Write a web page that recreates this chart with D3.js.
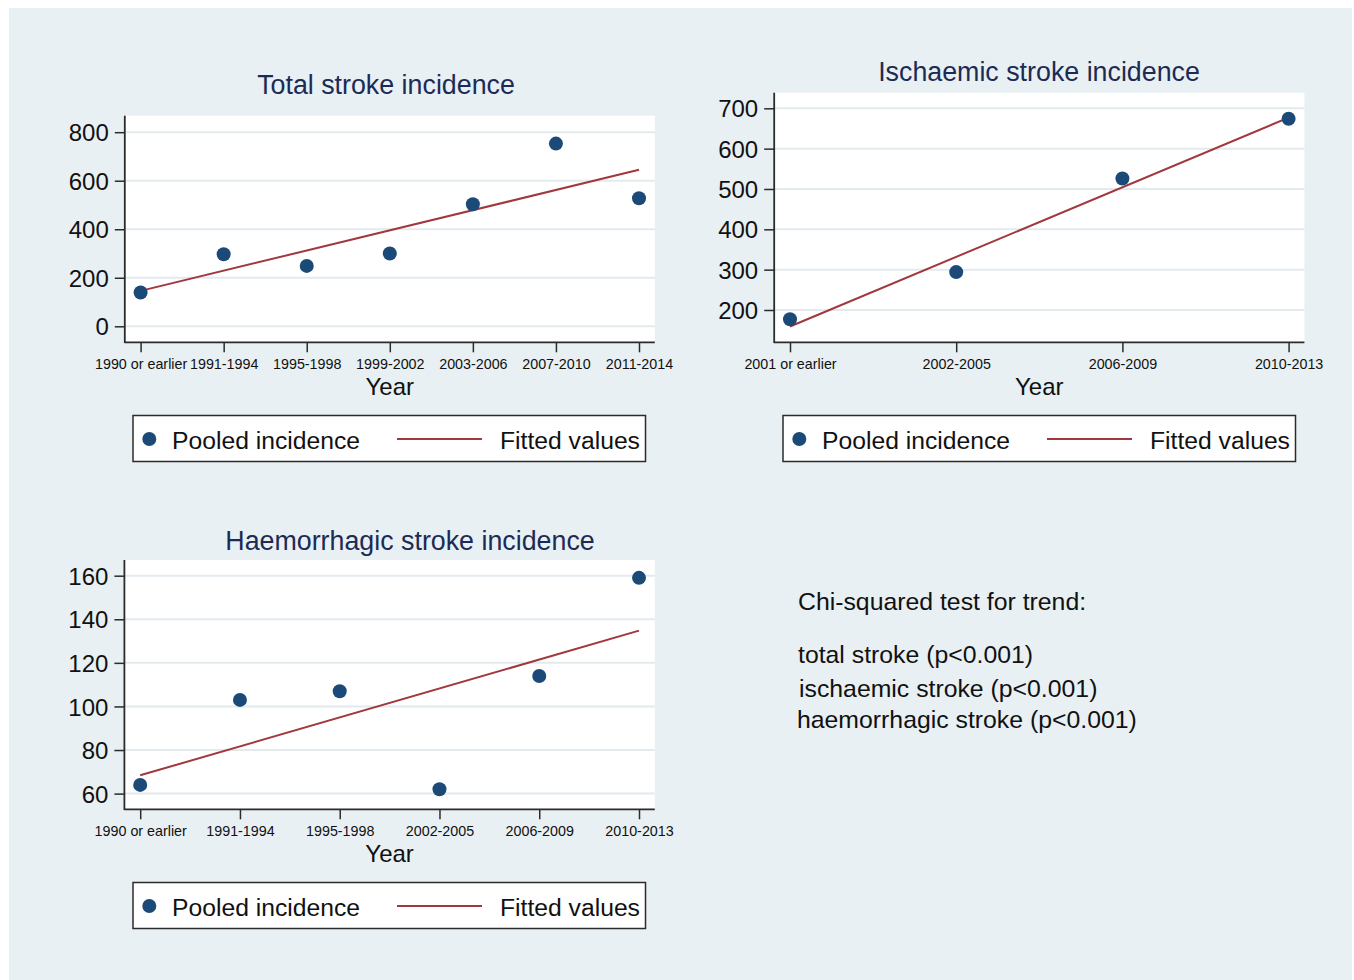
<!DOCTYPE html>
<html>
<head>
<meta charset="utf-8">
<script src="https://cdn.jsdelivr.net/npm/d3@7"></script>
<style>
  html, body { margin: 0; padding: 0; background: #ffffff; }
  svg { display: block; font-family: "Liberation Sans", Arial, Helvetica, sans-serif; }
</style>
</head>
<body>
<svg id="chart" width="1354" height="980"></svg>
<script>
// ---- Data ----
const totalCategories = ["1990 or earlier", "1991-1994", "1995-1998", "1999-2002", "2003-2006", "2007-2010", "2011-2014"];
const totalIncidence = [139, 297, 249, 300, 503, 753, 528];
const totalFitted = [146, 645];          // fitted values at first and last period
const totalTicks = [0, 200, 400, 600, 800];

const ischaemicCategories = ["2001 or earlier", "2002-2005", "2006-2009", "2010-2013"];
const ischaemicIncidence = [177, 294, 526, 674];
const ischaemicFitted = [159, 677];
const ischaemicTicks = [200, 300, 400, 500, 600, 700];

const haemCategories = ["1990 or earlier", "1991-1994", "1995-1998", "2002-2005", "2006-2009", "2010-2013"];
const haemIncidence = [64, 103, 107, 62, 114, 159];
const haemFitted = [68.4, 134.8];
const haemTicks = [60, 80, 100, 120, 140, 160];

const legendLabels = ["Pooled incidence", "Fitted values"];
const axisTitle = "Year";
const trendHeading = "Chi-squared test for trend:";
const trendLines = ["total stroke (p<0.001)", "ischaemic stroke (p<0.001)", "haemorrhagic stroke (p<0.001)"];

// ---- Styles ----
const BG = "#e8f0f3";
const GRID = "#e2eaee";
const DOT = "#1b4a78";
const FIT = "#a0383d";
const TITLE = "#1c2b55";
const INK = "#111111";
const AXIS = "#2b2b2b";

// ---- Panel layout ----
const panels = [
  {
    title: "Total stroke incidence", titleX: 386, titleY: 94,
    categories: totalCategories, values: totalIncidence, fitted: totalFitted, ticks: totalTicks,
    domain: [-66, 868], box: { x0: 124.8, x1: 654.8, y0: 115.7, y1: 342.3 },
    legend: { x: 133, y: 415.5, w: 512.5, h: 46 }
  },
  {
    title: "Ischaemic stroke incidence", titleX: 1039, titleY: 81,
    categories: ischaemicCategories, values: ischaemicIncidence, fitted: ischaemicFitted, ticks: ischaemicTicks,
    domain: [119.9, 738.7], box: { x0: 774.2, x1: 1304.4, y0: 92.7, y1: 342.3 },
    legend: { x: 783, y: 415.5, w: 512.5, h: 46 }
  },
  {
    title: "Haemorrhagic stroke incidence", titleX: 410, titleY: 550,
    categories: haemCategories, values: haemIncidence, fitted: haemFitted, ticks: haemTicks,
    domain: [52.8, 167.2], box: { x0: 124.4, x1: 654.8, y0: 560, y1: 809.3 },
    legend: { x: 133, y: 882.5, w: 512.5, h: 46 }
  }
];

const svg = d3.select("#chart");

// Graph background
svg.append("rect")
  .attr("x", 9).attr("y", 8).attr("width", 1343).attr("height", 972)
  .attr("fill", BG);

panels.forEach(p => {
  const b = p.box;
  const inset = 15.8;
  const x = d3.scalePoint().domain(p.categories).range([b.x0 + inset, b.x1 - inset]);
  const y = d3.scaleLinear().domain(p.domain).range([b.y1, b.y0]);
  const g = svg.append("g");

  // plot region
  g.append("rect")
    .attr("x", b.x0).attr("y", b.y0)
    .attr("width", b.x1 - b.x0).attr("height", b.y1 - b.y0)
    .attr("fill", "#ffffff");

  // horizontal gridlines
  g.append("g").selectAll("line").data(p.ticks).join("line")
    .attr("x1", b.x0).attr("x2", b.x1)
    .attr("y1", d => y(d)).attr("y2", d => y(d))
    .attr("stroke", GRID).attr("stroke-width", 2);

  // y axis
  const yAxis = g.append("g")
    .attr("transform", `translate(${b.x0},0)`)
    .call(d3.axisLeft(y).tickValues(p.ticks).tickFormat(d3.format("d")).tickSize(10).tickSizeOuter(0).tickPadding(6));
  yAxis.select(".domain").remove();
  yAxis.selectAll(".tick line").attr("stroke", AXIS).attr("stroke-width", 1.5);
  yAxis.selectAll(".tick text")
    .attr("fill", INK).attr("font-size", 24).attr("font-family", null)
    .attr("dy", "0.36em");

  // x axis
  const xAxis = g.append("g")
    .attr("transform", `translate(0,${b.y1})`)
    .call(d3.axisBottom(x).tickSize(10).tickSizeOuter(0));
  xAxis.select(".domain").remove();
  xAxis.selectAll(".tick line").attr("stroke", AXIS).attr("stroke-width", 1.5);
  xAxis.selectAll(".tick text")
    .attr("fill", INK).attr("font-size", 14.3).attr("font-family", null)
    .attr("y", 26.7).attr("dy", 0);

  // axis lines
  g.append("line")
    .attr("x1", b.x0).attr("x2", b.x0).attr("y1", b.y0).attr("y2", b.y1 + 0.75)
    .attr("stroke", AXIS).attr("stroke-width", 1.8);
  g.append("line")
    .attr("x1", b.x0).attr("x2", b.x1).attr("y1", b.y1).attr("y2", b.y1)
    .attr("stroke", AXIS).attr("stroke-width", 1.8);

  // axis title
  g.append("text")
    .attr("x", (b.x0 + b.x1) / 2).attr("y", b.y1 + 52.7)
    .attr("text-anchor", "middle").attr("font-size", 24).attr("fill", INK)
    .text(axisTitle);

  // fitted line
  const cats = p.categories;
  g.append("line")
    .attr("x1", x(cats[0])).attr("y1", y(p.fitted[0]))
    .attr("x2", x(cats[cats.length - 1])).attr("y2", y(p.fitted[1]))
    .attr("stroke", FIT).attr("stroke-width", 2);

  // pooled incidence points
  g.append("g").selectAll("circle").data(p.values).join("circle")
    .attr("cx", (d, i) => x(cats[i])).attr("cy", d => y(d))
    .attr("r", 7).attr("fill", DOT);

  // panel title
  g.append("text")
    .attr("x", p.titleX).attr("y", p.titleY)
    .attr("text-anchor", "middle").attr("font-size", 26.8).attr("fill", TITLE)
    .text(p.title);

  // legend
  const L = p.legend;
  const lg = g.append("g").attr("transform", `translate(${L.x},${L.y})`);
  lg.append("rect")
    .attr("width", L.w).attr("height", L.h)
    .attr("fill", "#ffffff").attr("stroke", AXIS).attr("stroke-width", 1.5);
  lg.append("circle").attr("cx", 16.3).attr("cy", 23.5).attr("r", 7).attr("fill", DOT);
  lg.append("text").attr("x", 39).attr("y", 33.5)
    .attr("font-size", 24.7).attr("fill", INK).text(legendLabels[0]);
  lg.append("line").attr("x1", 264).attr("x2", 349).attr("y1", 23.5).attr("y2", 23.5)
    .attr("stroke", FIT).attr("stroke-width", 2);
  lg.append("text").attr("x", 367).attr("y", 33.5)
    .attr("font-size", 24.7).attr("fill", INK).text(legendLabels[1]);
});

// trend test note
const note = svg.append("g").attr("font-size", 24.8).attr("fill", INK);
note.append("text").attr("x", 798).attr("y", 610).text(trendHeading);
const noteY = [663, 696.5, 728];
const noteX = [798, 799, 797];
note.selectAll("text.line").data(trendLines).join("text")
  .attr("class", "line")
  .attr("x", (d, i) => noteX[i]).attr("y", (d, i) => noteY[i])
  .text(d => d);
</script>
</body>
</html>
